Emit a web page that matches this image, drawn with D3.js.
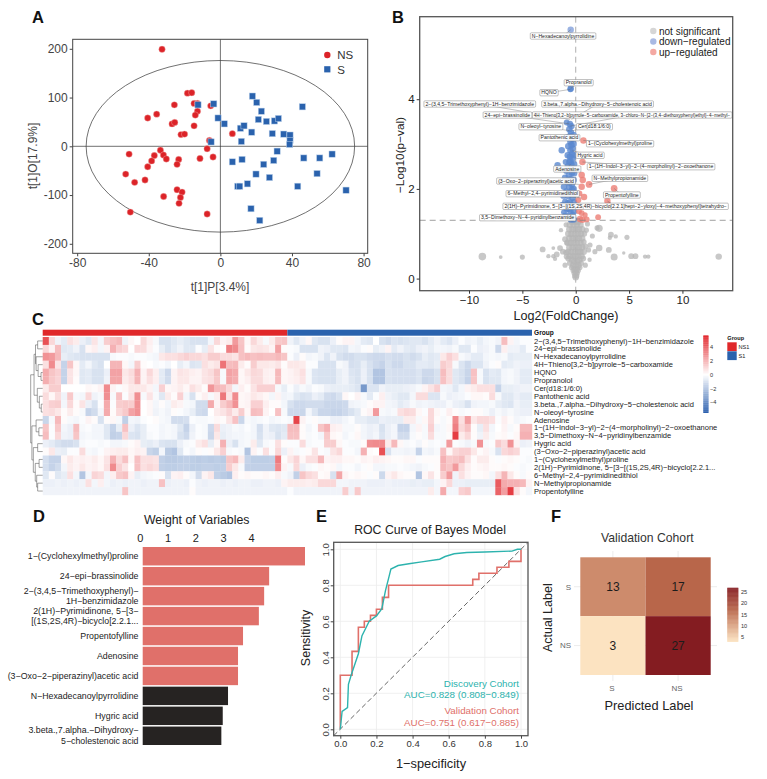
<!DOCTYPE html>
<html>

<head>
  <meta charset="utf-8">
  <script src="https://d3js.org/d3.v7.min.js"></script>
  <style>
    body {
      margin: 0;
      background: #fff;
    }

    svg text {
      font-family: "Liberation Sans", Arial, sans-serif;
    }

    .panelTag {
      font-weight: bold;
      font-size: 16.5px;
      fill: #111;
    }
  </style>
</head>

<body>
  <svg id="fig" width="767" height="779"></svg>
  <script>
    // ---------- panel A, OPLS-DA scores [t1P, t1O]
    const nsScores = [[-32.6, 199], [-18.4, 109], [-16, 110], [-14.7, 88], [-12.8, 88], [-5.4, 83], [-25.7, 85], [-12.8, 72], [-14, 64], [-40.6, 58],
    [-35.6, 66], [-27, 46], [-25.5, 49], [-14.7, 42], [-22, 24], [-20, 25], [6.7, 26], [-6.1, 12], [-7.4, -5], [-4.1, -22],
    [-11.4, -25], [-33.5, -8], [-31.8, -18], [-36.9, -19], [-38.4, -30], [-30.2, -26], [-51, -16], [-40.6, -42], [-23.3, -27], [-24.2, -37],
    [-52.9, -57], [-47.9, -74], [-42.1, -69], [-24.2, -89], [-21.4, -94], [-22.3, -105], [-31.7, -103], [-23.1, -117], [-50.3, -135], [-7.4, -139]];
    const sScores = [[-12.5, 85], [-3.7, 87], [-1.3, 58], [2.2, 46], [17.9, 103], [20.3, 90], [22.9, 72], [21.2, 55], [25.7, 51], [30.2, 52],
    [32.4, 57], [45.8, 81], [11.2, 37], [13.2, 42], [17.5, 29], [11.7, 10], [29, 26], [35.4, 25], [38.9, 23], [38.9, 12],
    [38.7, 4], [-5.2, 9], [31.7, -10], [6.7, -32], [12.1, -27], [24.2, -37], [29.8, -29], [46.6, -24], [55.5, -24], [62.4, -16],
    [19.9, -57], [27.4, -64], [54, -56], [15.1, -77], [9.7, -82], [10.8, -82], [43.2, -82], [70.2, -90], [17.1, -128], [22, -152]];
    const aTicksX = [-80, -40, 0, 40, 80];
    const aTicksY = [-200, -100, 0, 100, 200];
    const ellipseRadius = [75, 176];

    // ---------- panel B, volcano [log2FC, -log10p, feature weight]
    const notSigPoints = [[-8.75, .49, 4], [-7.03, .48, 1.2], [-5, .48, 2], [-3.1, .65, 2.5], [-2.56, .5, 1.5], [-2.1, .5, 1.5], [-1.78, .54, 2.5], [-2.1, .68, 1.2], [-1.47, .68, 2.5], [-1.94, .44, 1.5],
    [13.4, .49, 3], [6.8, .49, 1.5], [6.5, .49, 1.5], [5.6, .5, 2.5], [5.2, .5, 2.5], [4.5, .57, 1], [3.6, .48, 3.5], [3.1, .64, 2.5], [2.2, .68, 3], [1.8, .6, 2],
    [4.8, .92, 2], [3.75, .94, 1.5], [3.3, .98, 2.5], [3.2, .91, 1.5], [2.2, 1.12, 3.5], [2, 1.13, 2], [1.56, .95, 2], [1, 1.08, 2], [1.34, .75, 2], [1.2, .64, 2],
    [-1.38, 1.08, 1.5], [-1, .88, 2.5], [-.85, .8, 2], [-1, .3, 2], [-.85, .49, 2.5], [1.1, 1.22, 2], [-.9, 1.2, 2], [1.3, .42, 1.5], [-1.2, .6, 2.5], [.9, .3, 2],
    [0, .03, 3], [-.1, .06, 2], [.1, .06, 2], [-.15, .12, 2], [.15, .12, 2], [0, .15, 3], [-.25, .18, 2], [.25, .18, 2], [-.1, .22, 3], [.1, .22, 3],
    [-.4, .25, 2], [.4, .25, 2], [-.25, .3, 3], [0, .3, 3], [.25, .3, 3], [-.55, .35, 2.5], [.5, .35, 2.5], [-.15, .38, 3], [.15, .38, 3], [-.35, .42, 3],
    [.35, .42, 3], [-.7, .45, 2.5], [.7, .45, 2.5], [-.55, .5, 3], [-.25, .5, 3], [0, .5, 3], [.25, .5, 3], [.55, .5, 3], [-.9, .58, 2.5], [-.7, .6, 3],
    [-.4, .6, 3], [-.1, .6, 3], [.2, .6, 3], [.45, .6, 3], [.75, .6, 3], [-.6, .7, 3], [-.3, .7, 3], [0, .7, 3], [.3, .7, 3], [.6, .7, 3],
    [.9, .72, 2.5], [-.75, .8, 3], [-.45, .8, 3], [-.15, .8, 3], [.15, .8, 3], [.45, .8, 3], [.75, .82, 2.5], [-.6, .9, 3], [-.3, .9, 3], [0, .9, 3],
    [.3, .9, 3], [.6, .9, 3], [-.7, 1, 3], [-.4, 1, 3], [-.1, 1, 3], [.2, 1, 3], [.5, 1, 3], [.8, 1, 2.5], [-.6, 1.1, 3], [-.3, 1.1, 3],
    [0, 1.1, 3], [.3, 1.1, 3], [.6, 1.1, 3], [-.55, 1.2, 3], [-.2, 1.2, 3], [.1, 1.2, 3], [.45, 1.2, 3], [-.35, 1.27, 3], [0, 1.27, 3], [.25, 1.27, 3]];
    const downPoints = [[-.47, 5.55, 3], [-.47, 4.24, 3], [-.5, 4.22, 2.5], [-1.31, 2.86, 3], [-1.7, 2.53, 3], [-.85, 3.48, 2.5], [-.55, 3.45, 3], [-.4, 3.4, 3], [-.6, 3.33, 3], [-.45, 3.26, 3],
    [-.5, 3.18, 3], [-.35, 3.12, 3], [-.5, 3.05, 3], [-.4, 2.98, 3], [-.3, 2.9, 3], [-.5, 2.86, 3], [-.35, 2.78, 3], [-.55, 2.72, 3], [-.3, 2.68, 3], [-.6, 2.6, 3],
    [-.4, 2.55, 3], [-.75, 2.5, 3], [-.5, 2.44, 3], [-.9, 2.4, 2.5], [-.35, 2.36, 3], [-.65, 2.3, 3], [-.45, 2.22, 3], [-.8, 2.15, 3], [-.35, 2.1, 3], [-.6, 2.04, 3],
    [-.9, 1.95, 2.5], [-.45, 1.92, 3], [-.7, 1.84, 3], [-.3, 1.8, 3], [-1, 1.72, 2.5], [-.55, 1.7, 3], [-.25, 1.62, 3], [-.85, 1.56, 3], [-.5, 1.5, 3], [-1.1, 1.48, 2.5],
    [-.3, 1.42, 3], [-.7, 1.38, 3], [-.45, 1.32, 3], [-.2, 3.2, 3], [-.75, 3.15, 3], [-.2, 3, 3], [-.7, 2.95, 3], [-.15, 2.75, 3], [-.75, 2.75, 3], [-.15, 2.55, 3],
    [-.95, 2.6, 2.5], [-.15, 2.35, 3], [-1, 2.25, 3], [-.2, 2.2, 3], [-1.1, 2.05, 3], [-.2, 2, 3], [-1.15, 1.85, 3], [-.15, 1.9, 3], [-.5, 2.62, 3], [-.6, 2.15, 3],
    [-.35, 1.98, 3], [-.75, 1.68, 3], [-.15, 1.7, 3], [-.4, 1.6, 3], [-1.25, 1.65, 2.5], [-.15, 1.5, 3], [-.95, 1.4, 3], [-.2, 1.32, 3], [-.65, 1.55, 3], [-.55, 1.9, 3]];
    const upPoints = [[.72, 3.08, 3], [.63, 2.6, 3], [.56, 2.31, 3], [.66, 2.2, 3], [1.25, 2.1, 3.2], [.56, 2.05, 3], [3.6, 2.01, 3.2], [.78, 1.82, 3], [.25, 1.75, 2.5], [2.97, 1.73, 3],
    [3.1, 1.64, 2.5], [.56, 1.6, 2.5], [.56, 1.46, 2.5], [.4, 1.33, 3], [.63, 1.31, 3], [1.03, 1.32, 2.5], [2.1, 1.37, 2.5], [.88, 1.42, 2], [.35, 1.9, 2.5], [.3, 1.5, 2.5]];
    const volcanoLabels = ["N−Hexadecanoylpyrrolidine", "Propranolol", "HQNO", "2−(3,4,5−Trimethoxyphenyl)−1H−benzimidazole", "3.beta.,7.alpha.−Dihydroxy−5−cholestenoic acid",
      "4H−Thieno[3,2−b]pyrrole−5−carboxamide, 3−chloro−N−[2−(3,4−diethoxyphenyl)ethyl]−4−methyl−", "24−epi−brassinolide", "N−oleoyl−tyrosine", "Cer(d18:1/6:0)", "Pantothenic acid",
      "1−(Cyclohexylmethyl)proline", "Hygric acid", "Adenosine", "1−(1H−Indol−3−yl)−2−(4−morpholinyl)−2−oxoethanone", "N−Methylpropionamide",
      "(3−Oxo−2−piperazinyl)acetic acid", "Propentofylline", "6−Methyl−2,4−pyrimidinedithiol", "2(1H)−Pyrimidinone, 5−[3−[(1S,2S,4R)−bicyclo[2.2.1]hept−2−yloxy]−4−methoxyphenyl]tetrahydro−", "3,5−Dimethoxy−N−4−pyridinylbenzamide"];
    const volcanoLabelTargets = [[-.47, 5.55], [-.47, 4.24], [-.5, 4.22], [-.55, 3.55], [-.4, 3.55],
    [-.5, 3.4], [-.6, 3.45], [-.6, 3.3], [-.3, 3.3], [-.5, 3.1],
    [.72, 3.08], [-.3, 2.85], [-.5, 2.55], [.63, 2.6], [1.25, 2.1],
    [.3, 2.1], [3.6, 2.01], [.5, 1.8], [2.97, 1.73], [.4, 1.33]];
    const bTicksX = [-10, -5, 0, 5, 10];
    const bTicksY = [0, 2, 4];

    // ---------- panel C, z-scored heatmap: 20 metabolites x 80 samples (40 NS, then 40 S)
    const heatLabels = ["2−(3,4,5−Trimethoxyphenyl)−1H−benzimidazole", "24−epi−brassinolide", "N−Hexadecanoylpyrrolidine", "4H−Thieno[3,2−b]pyrrole−5−carboxamide", "HQNO",
      "Propranolol", "Cer(d18:1/6:0)", "Pantothenic acid", "3.beta.,7.alpha.−Dihydroxy−5−cholestenoic acid", "N−oleoyl−tyrosine",
      "Adenosine", "1−(1H−Indol−3−yl)−2−(4−morpholinyl)−2−oxoethanone", "3,5−Dimethoxy−N−4−pyridinylbenzamide", "Hygric acid", "(3−Oxo−2−piperazinyl)acetic acid",
      "1−(Cyclohexylmethyl)proline", "2(1H)−Pyrimidinone, 5−[3−[(1S,2S,4R)−bicyclo[2.2.1...", "6−Methyl−2,4−pyrimidinedithiol", "N−Methylpropionamide", "Propentofylline"];
    const heatGroups = ["NS1", "S1"];
    const heatValues = [
      [4.5, 1, -.4, -.7, .8, .5, -.5, -.8, .7, -.3, 1.3, 1.6, 1.8, -.4, .2, 0, 1, .4, -.2, -1, -1, -.8, -.6, -.8, -1, -1, -1, -.3, 1, .3, .5, 2.6, 1.5, .2, 1, .5, -.2, .5, 1.4, 1.5,
      -.4, -.8, -.4, .2, -.8, -1, -1, -.5, .1, .3, .3, -.3, -.7, -.8, 0, -1, -1.2, -.9, -1, -.9, -.8, -.8, -1, -.7, -.4, -.7, -.9, -.5, -.1, -.4, -.3, -.6, -.3, -.2, -.4, 1.7, .3, -.3, -.1, -.1],
      [1, .3, 1.7, -.8, -.7, -.4, -1, .2, .4, -.3, .3, 2, 1.2, 1, 0, 1, .9, .3, -.1, -.6, -1, -.7, -.4, -.8, -.8, -.1, -.6, .7, .1, 0, 3.3, 3, 1.6, .1, .6, .7, .6, .3, 2.4, .1,
      -.1, -.2, -1, -1, -1, -.4, -.5, -.8, -.8, -.9, -.3, -.4, -.1, .1, -.6, -.4, .3, -.7, -.4, -.7, -.8, -.5, -.4, -.6, -.3, -.3, -.4, -.2, -.8, -.8, -.1, -.5, -.4, -.2, -1.3, .4, -.4, -.4, -.7, -.1],
      [2.8, 2.6, 1.8, -.6, -.8, -.9, -1, -1, -1, -1, -1, -.2, -.1, -.1, -.2, -.1, -.1, -.2, -.3, .6, .8, .8, 1, 1.2, 1, 1, .8, 1.3, 1.3, .9, .9, .7, 1.6, 1.8, 1.6, 1.7, 1.6, 1.6, 1.8, 1.5,
      -.1, -.5, .1, -.3, -.2, -.4, -.9, -.4, -1, -1.2, -1.2, -1, -1, -1.2, -1.3, -1.3, -1.1, -1.2, -1.2, -1, -1.2, -1, -.6, -.8, -.7, .6, 1.2, .8, -.2, -.4, -.7, -.7, -.3, -.2, -.3, -.2, -.7, -.6, -.6, -.6],
      [.8, 3, .7, -1.5, 1.5, .2, -.7, -.3, -.8, -1, 0, 1.9, 1.9, .2, -.3, 1.3, .1, 0, -.2, -.1, -.3, 0, -.6, -.3, -.9, -.8, .8, .5, .7, 3.6, 1.7, 1.8, .5, .1, 1.3, .6, .6, .5, .7, .1,
      .6, .6, .5, -.1, -.1, -1, -1, -1, -.2, -.4, -1.1, -1, -.6, -1, -1.3, -1.5, -1, -1.3, -1.3, -1, -1, -.7, -.7, -.8, -.6, 1.3, 1, -.2, -.9, -1.3, -.9, -.9, -.4, -.1, .1, -.7, -.6, -.4, -.5, -.5],
      [2.2, 1.5, 1.2, -1.5, .7, .2, -.8, -.7, -1, -1, -.5, 2.4, 2.4, .6, .9, 2, .3, 1, .4, -.7, -1.3, .3, .7, .6, .4, .3, .7, .9, 1.5, -.2, 2.4, 2.2, .2, .6, 1, .9, .4, .3, 1.8, .2,
      .3, .5, .8, -.2, -.9, -1, -1, -1, -.6, -.4, -.9, -1, -.5, -1, -2, -2, -1, -1.1, -1.1, -1.1, -1.1, -.9, -1.3, -1.3, -1, 1.7, .9, -.8, -1, -1.4, 1.6, -.2, -1, -.7, -.8, -.3, -.2, -.4, -.7, -.7],
      [2.1, 1.4, 1.1, -1.5, .7, .1, -.8, -.7, -1, -1, -.4, 2.3, 2.3, .5, .8, 1.9, .3, .8, .4, -.7, -1.2, .3, .6, .6, .3, .3, .7, .8, 1.4, -.2, 2.3, 2.1, .2, .4, .9, .9, .4, .3, 1.7, .2,
      .3, .4, .7, -.2, -.9, -1, -1, -1, -.6, -.4, -.8, -1, -.5, -1, -2, -2, -1, -1.1, -1.1, -1.1, -1.1, -.9, -1.4, -1.3, -1, 1.6, .9, -.8, -1, -1.5, 1.5, -.2, -1, -.8, -.8, -.3, -.2, -.4, -.7, -.7],
      [.5, 1.3, 1.3, 0, 0, 0, 0, .2, .1, .3, 3, .3, -.1, .2, .6, .6, .6, .3, -.3, 1.2, .2, .3, .5, .2, .8, .5, .1, 2.7, 1.8, 1.7, 1, -.3, .4, .1, .7, 1.2, 1.2, 1.2, -.2, -.6,
      -.1, -.5, -.2, -.4, -.1, -.2, -.5, -.6, -.6, -.6, -.7, -.9, -3.5, -.9, -.9, -.4, -.6, -.6, -.6, -.5, -.4, -.2, .3, .7, 1.2, -.3, -.4, -.8, -.3, .3, .5, .8, .8, .8, -1.5, -.6, -.6, -.5, -.4, -.4],
      [.9, .2, .9, -.4, 1.4, -.2, -.3, 1, -.4, -.2, 2.9, -.2, 1.6, -.1, .7, 2.9, -.2, .7, -.2, -.8, .5, .1, 1.2, -.3, -1, .1, .4, -.2, .4, 3.5, .7, 3, .2, .3, .6, .4, .2, -.3, .3, -.4,
      -.3, -.8, -1, -.9, -.5, -.7, -1.2, -1.3, -1, .2, 0, .3, -.2, -.7, -.1, .4, -.4, -.6, -.8, -.8, -.3, .9, .9, -.9, -.9, -.2, -.5, -.4, -.3, -.1, .2, .2, .1, .9, -.2, -.8, -.8, -.5, -.7, -.7],
      [.8, 1.2, 1.3, -.3, 1, .1, .7, -.5, -1, -.1, 2.2, -.1, 1.3, 1.4, 1.3, 2.8, 0, .2, -.3, .1, -.3, .5, .3, -.2, -.3, -1.2, -1.2, 2.2, .3, 1.3, 1.8, 2.8, .2, .3, 1.2, 1.2, .4, .1, .1, -.3,
      -1, -1.3, -1.3, -1.2, -1.2, -1.2, -1.4, -1.4, -1.4, -1.3, -.4, -.3, -.2, .1, .3, .3, -.3, -.4, -.7, -.5, -.2, -.4, -.3, -.4, -.5, -.5, -.2, -.5, -.6, -1, -.4, -.3, -.3, -.2, -.6, -.8, -.9, -.4, -.6, -.6],
      [.8, .9, .6, .1, .5, .1, -.2, -1.5, -1.2, -.3, 2.2, .1, 1, 1.4, 2.4, 2.8, 0, .2, -.4, -.2, -.4, .1, -.1, -.3, -.6, -1.2, -1.3, 0, .5, .7, 1.1, .5, 1.3, .2, 1.7, 1.6, .3, 0, 1.6, -.2,
      -1.3, -1.3, -1.4, -.3, -.9, -1.4, -1.4, -1.5, -1.5, -1.3, -1, -.7, .1, .3, 2.6, -.2, -.3, -.2, .8, 1, .9, .2, -.1, 1, .2, -.1, .4, .1, -.2, -.1, .1, .1, -.2, -.5, -.2, -.4, -.2, -.4, -.5, -.5],
      [-1.4, -.2, 1.8, .1, -.2, -.3, -.1, .3, .1, -1, .1, .2, -.2, -1.6, -.3, -.4, -.1, 0, .1, -.2, -.3, -1.2, -1.2, -1.1, -.1, -.2, -.2, -.1, .2, .1, .7, 1.6, -1.4, -.2, -.3, -.2, -.1, -.3, -.2, -.1,
      -.2, 4.8, .3, -.1, .1, -.2, -.2, -.5, -.5, -.3, -.1, -.6, -.6, -.8, -.8, -.5, -.6, -.6, -.6, .5, .5, -.2, .2, 1, .1, -.2, .1, 3, .8, 2.5, .6, 1, 1, .8, -.1, .4, .1, -.3, -.2, -.1],
      [1.5, -.1, 1.4, -.3, -.5, 1.7, -.2, -.1, -.3, -.3, -.8, -1.5, -.6, 1.6, -.5, -.9, -.6, -.1, -.1, -.3, -.2, -.3, -.8, -1.5, -.5, -.1, -.2, -1.3, .9, -.5, -.4, -.2, -.3, -.1, -.3, -1.1, -.4, -.8, -.9, -.8,
      1.7, 1.7, .1, -.3, -.1, 1.5, 2, .4, .3, -.2, -.2, .1, -.3, -.5, -.4, -1, -.5, -.3, -1.5, -1.5, -.3, .3, -.2, 1.2, -.3, -.2, .2, 3.3, 1, 1.6, .1, -.6, .8, -.3, 0, .3, -.2, .1, 1.8, 1.8],
      [1.7, -.1, 1, -.4, -.5, 1.5, -.3, -.2, -.3, -.3, -.8, -1.6, -1.5, 1, -.9, -1, -.6, -.2, -.1, -.3, -.2, -.3, -1, -1.3, -.4, -.1, -.2, -1.4, .6, -.6, -.4, -.3, -.3, -.2, -.3, -1, -.4, -.5, -1, -.7,
      1.6, 1.6, .1, -.2, -.1, -.3, 1.4, .2, .1, -.3, -.1, .2, -.3, -.5, -.3, -.9, -.5, -.3, -1.2, -1.2, -.2, .1, -.2, .9, -.2, -.2, .1, 5, .5, 1, .1, -.4, .5, -.2, .1, .2, -.1, .2, 2, 2],
      [-.5, -.7, -1, -1.2, -1.2, -1, -.2, -.1, -.1, -.2, -.1, -.3, -.3, -.2, .1, .3, -.6, -.7, -.5, -.9, -1, -1, -.5, -.2, -.1, .5, .8, -.6, .2, 2, -.5, -1, -.3, -.2, .5, -.8, -.2, -.1, .8, .1,
      -.1, -.1, .9, -.2, -.1, -.1, 1.3, 1.3, .2, -.1, -.2, -.2, .1, 2.9, 3, 3, .5, 1.8, .2, -.2, -.1, -.3, .1, -.2, -.1, -.2, 2.6, -.1, -.2, -.4, -.2, 2.8, -.2, -.1, 1.4, .9, 2.8, .3, -.5, -.4],
      [.1, .6, -.5, -.6, -.1, -.1, .9, -.2, -.3, -.1, .3, .4, .5, .5, .2, .4, .3, -1.4, -1.6, -.3, -1.8, -2, -.8, -.1, -.3, .1, -.1, .1, .6, 1.2, -.2, -.1, -.2, -2, .3, -.1, .8, -.1, 1, -.5,
      .3, -.2, -.1, .1, .7, -.1, -.2, .7, 1, -.1, -.1, -.3, 2, .1, 0, 4.5, -1, -.3, -.3, -.4, -.3, -1.5, -.3, -.4, -.2, 1.6, .2, 1, 1.2, 1.2, .6, .1, .3, -.2, -1, 1, 1.2, 1, -.1, -.1],
      [-1.1, -1.5, -1.5, .2, .6, .3, .4, .3, .5, .2, .7, 2, .9, 1.6, .2, 1.6, .8, .8, .7, -1.6, -1.8, -1.8, -1.7, -1.6, -1.7, -1.8, -1.7, -1.8, -1.7, -1.8, 1.5, 1.8, .5, -1.5, -1.7, -1.7, -1.7, -1.6, 3.4, .1,
      .6, 1.1, .2, .8, .8, 1.8, .3, .4, .4, .2, .2, .1, .3, .2, .4, .3, .2, .1, .1, .2, .2, -.1, .1, .1, .1, 2, 1.4, 1.5, 1.7, .8, .1, .5, .5, .1, -.1, .1, .2, .1, -.1, -.2],
      [-1.1, -1.5, -1.2, -.3, .5, .3, .6, .3, .4, .2, .8, 3, 1.2, .7, 0, 1.6, .8, 1, .8, -1.6, -1.7, -1.7, -1.6, -1.6, -1.7, -1.7, -1.6, -1.6, -1.7, -1.6, 1.3, .6, -.2, -1.6, -1.6, -1.6, -1.6, -1.6, 3, .3,
      -.2, 1, -.5, -.2, -.1, .2, .1, .2, -.3, -.1, -.1, -.3, -.1, .1, -.3, -.3, -.2, -.2, -.1, -.2, -.3, -.4, -.2, -.1, .1, 1.8, 1.5, 2.6, 1, .4, .1, .2, .3, .1, .1, .2, .1, -.1, -.2, -.1],
      [-.8, .1, -.8, -.6, .8, -.3, -2, -.3, 1.1, .9, -.3, .4, 1.4, 1.6, .3, -.6, -.3, -.2, -.1, .1, -1, .3, .4, .1, -.3, -1.2, .3, .6, -1.6, -1.8, -2, .4, .1, .2, .1, .1, .2, .1, .4, -.2,
      -.4, -1.6, 1.5, 1, .8, .1, .2, -1, 2.3, .3, .1, .2, .1, -.1, .1, -1.3, .3, .6, .2, .1, .1, -2, .2, .7, .1, 1.3, 2.6, -.4, .8, .3, .1, .1, .2, -.3, .8, 1.9, .6, .1, -.2, .1],
      [-.5, -.5, -.4, -.5, -.4, -.5, -.4, .8, -.3, .4, -.3, -.5, -.4, -.5, -.4, -.4, -.5, -.4, -.4, 1.6, -.5, -.4, -.4, -.5, -.1, -.4, -.5, -.4, -.4, -.5, -.4, -.5, -.4, -.4, -.5, -.5, -.4, -.4, -.5, .3,
      .5, .5, .5, .4, .5, 1, 1, 1, -.3, -.3, -.4, -.4, -.4, -.5, -.5, -.5, -.4, -.5, -.5, -.5, -.6, -.5, -.6, -.6, -.3, .3, 1, -.5, -.5, -.6, -.6, -.6, -.6, -.6, 4.2, 2.2, 2, 2, 1.8, .3],
      [-.4, -.4, -.4, -.4, -.4, -.4, -.4, -.4, -.4, -.4, -.4, -.4, -.4, 1.5, -.4, -.4, -.4, -.4, -.4, -.4, -.4, -.4, -.4, -.4, .1, -.4, -.4, -.4, -.4, -.4, -.4, -.4, -.4, -.4, -.4, -.4, -.4, -.4, -.4, -.4,
      -.1, -.4, -.4, -.4, -.4, -.4, -.4, -.4, -.4, 1.3, -.4, 1.4, -.4, -.4, -.4, -.4, -.4, -.4, -.4, -.4, -.4, -.4, -.4, .5, -.3, 2.2, -.3, -.3, 1.2, 1.4, -.3, -.3, -.3, -.3, 4, 2.5, 5, .8, .1, -.3]
    ];
    const heatLegendTicks = [-4, -2, 0, 2, 4];
    // dendrogram as [merge height, left, right], leaves are row numbers
    const dendroTree = [1,
      [.72, [.6, [.42, 0, 1], [.55, 2, [.38, 3, [.14, 4, 5]]]], [.45, 6, [.28, 7, [.12, 8, 9]]]],
      [.9, [.55, 10, [.32, 11, 12]], [.78, [.42, 13, 14], [.62, [.3, 15, 16], [.5, 17, [.42, 18, 19]]]]]];

    // ---------- panel D
    const weightNames = ["1−(Cyclohexylmethyl)proline", "24−epi−brassinolide", "2−(3,4,5−Trimethoxyphenyl)−\n1H−benzimidazole", "2(1H)−Pyrimidinone, 5−[3−\n[(1S,2S,4R)−bicyclo[2.2.1...", "Propentofylline",
      "Adenosine", "(3−Oxo−2−piperazinyl)acetic acid", "N−Hexadecanoylpyrrolidine", "Hygric acid", "3.beta.,7.alpha.−Dihydroxy−\n5−cholestenoic acid"];
    const weightValues = [5.84, 4.55, 4.37, 4.18, 3.61, 3.43, 3.43, 3.07, 2.88, 2.83];
    const weightUp = [true, true, true, true, true, true, true, false, false, false];
    const weightTicks = [0, 1, 2, 3, 4];

    // ---------- panel E, ROC [1-specificity, sensitivity]
    const discoveryRoc = [[0, 0], [.01, .1], [.04, .12], [.045, .25], [.06, .3], [.08, .36], [.1, .42], [.12, .52], [.14, .56], [.16, .6], [.2, .63], [.23, .67], [.25, .77], [.27, .85], [.28, .89], [.32, .91], [.38, .92], [.45, .93], [.55, .945], [.58, .96], [.63, .975], [.7, .982], [.8, .985], [.95, .99], [.98, 1], [1, 1]];
    const validationRoc = [[0, 0], [0, .3], [.065, .3], [.065, .433], [.1, .433], [.1, .567], [.133, .567], [.133, .6], [.167, .6], [.167, .633], [.2, .633], [.2, .667], [.233, .667], [.233, .733], [.267, .733], [.267, .8], [.733, .8], [.733, .833], [.767, .833], [.767, .867], [.867, .867], [.867, .9], [.933, .9], [.933, .933], [1, .933], [1, 1]];
    const rocTicks = [0, .2, .4, .6, .8, 1];

    // ---------- panel F
    const confusionLabels = ["S", "NS"];
    const confusionCells = [["S", "S", 13], ["NS", "S", 17], ["S", "NS", 3], ["NS", "NS", 27]];
    const confusionLegendTicks = [5, 10, 15, 20, 25];

    const svg = d3.select("#fig");

    const addText = (sel, str, x, y, size, opts = {}) => sel.append("text")
      .text(str)
      .attr("x", x).attr("y", y)
      .attr("font-size", size)
      .attr("text-anchor", opts.anchor || "middle")
      .attr("fill", opts.fill || "#222")
      .attr("font-weight", opts.weight || null);

    const addRotated = (sel, str, x, y, size, fill) => sel.append("text")
      .text(str)
      .attr("transform", `translate(${x},${y}) rotate(-90)`)
      .attr("font-size", size)
      .attr("text-anchor", "middle")
      .attr("fill", fill || "#222");

    const styleAxis = (g, size, color, stroke) => {
      g.select(".domain").remove();
      g.selectAll("line").attr("stroke", stroke || "#444");
      g.selectAll("text").attr("font-size", size).attr("fill", color || "#444");
    };

    [["A", 32, 23], ["B", 392, 23], ["C", 32, 325], ["D", 33, 522], ["E", 316, 522], ["F", 551, 522]].forEach(t => {
      svg.append("text").attr("class", "panelTag").attr("x", t[1]).attr("y", t[2]).text(t[0]);
    });

    // ------------------ A
    const ax = d3.scaleLinear([-82.5, 82.3], [72.7, 367.7]);
    const ay = d3.scaleLinear([-219.5, 219.5], [253.3, 39.3]);
    const aG = svg.append("g");
    aG.append("ellipse")
      .attr("cx", ax(0)).attr("cy", ay(0))
      .attr("rx", ax(ellipseRadius[0]) - ax(0)).attr("ry", ay(0) - ay(ellipseRadius[1]))
      .attr("fill", "none").attr("stroke", "#333").attr("stroke-width", .7);
    aG.append("line").attr("x1", ax.range()[0]).attr("x2", ax.range()[1]).attr("y1", ay(0)).attr("y2", ay(0)).attr("stroke", "#333").attr("stroke-width", .7);
    aG.append("line").attr("y1", ay.range()[0]).attr("y2", ay.range()[1]).attr("x1", ax(0)).attr("x2", ax(0)).attr("stroke", "#333").attr("stroke-width", .7);
    aG.selectAll("circle.ns").data(nsScores).join("circle")
      .attr("class", "ns")
      .attr("cx", d => ax(d[0])).attr("cy", d => ay(d[1])).attr("r", 3.2)
      .attr("fill", "#dc2328").attr("stroke", "#f3b6b2").attr("stroke-width", .4);
    aG.selectAll("rect.s").data(sScores).join("rect")
      .attr("class", "s")
      .attr("x", d => ax(d[0]) - 3.1).attr("y", d => ay(d[1]) - 3.1).attr("width", 6.2).attr("height", 6.2)
      .attr("fill", "#2a62ad").attr("stroke", "#b9d0ea").attr("stroke-width", .5);
    aG.append("rect").attr("x", 72.7).attr("y", 39.3).attr("width", 295).attr("height", 214)
      .attr("fill", "none").attr("stroke", "#444").attr("stroke-width", 1);
    aG.append("g").attr("transform", "translate(0,253.3)")
      .call(d3.axisBottom(ax).tickValues(aTicksX).tickFormat(d => String(d)).tickSize(3).tickPadding(2))
      .call(styleAxis, 12);
    aG.append("g").attr("transform", "translate(72.7,0)")
      .call(d3.axisLeft(ay).tickValues(aTicksY).tickFormat(d => String(d)).tickSize(3).tickPadding(2))
      .call(styleAxis, 12);
    addText(aG, "t[1]P[3.4%]", 220, 291, 12, { fill: "#444" });
    addRotated(aG, "t[1]O[17.9%]", 37, 156, 12, "#444");
    aG.append("circle").attr("cx", 327.3).attr("cy", 55).attr("r", 3.2).attr("fill", "#dc2328");
    aG.append("rect").attr("x", 324.2).attr("y", 66.2).attr("width", 6.2).attr("height", 6.2).attr("fill", "#2a62ad");
    addText(aG, "NS", 337.3, 59, 11.5, { anchor: "start", fill: "#333" });
    addText(aG, "S", 337.3, 74, 11.5, { anchor: "start", fill: "#333" });

    // ------------------ B
    const bx = d3.scaleLinear([-14.62, 14.71], [419.7, 732.7]);
    const by = d3.scaleLinear([-.27, 5.84], [290.7, 16.7]);
    const br = d3.scaleSqrt([1, 4], [1.7, 3.8]);
    const bG = svg.append("g");
    const drawVolcano = (pts, fill, opacity) => {
      bG.append("g").selectAll("circle").data(pts).join("circle")
        .attr("cx", d => bx(d[0])).attr("cy", d => by(d[1])).attr("r", d => br(d[2]))
        .attr("fill", fill).attr("fill-opacity", opacity);
    };
    bG.append("line").attr("x1", bx(0)).attr("x2", bx(0)).attr("y1", 16.7).attr("y2", 290.7)
      .attr("stroke", "#999").attr("stroke-dasharray", "6 4").attr("stroke-width", .8);
    drawVolcano(notSigPoints, "#b5b5b5", .75);
    drawVolcano(downPoints.slice(0, 1), "#8aa6dd", .85);
    drawVolcano(downPoints.slice(1), "#5a88cf", .8);
    drawVolcano(upPoints, "#ec7e76", .8);
    bG.append("line").attr("x1", 419.7).attr("x2", 732.7).attr("y1", by(1.3)).attr("y2", by(1.3))
      .attr("stroke", "#888").attr("stroke-dasharray", "6 4").attr("stroke-width", .8);

    // label boxes were placed by ggrepel in the original, so they are positioned by hand here
    const labelCenterX = [563, 578.7, 549, 479.7, 597.5, 632, 507.4, 540.8, 594.3, 559.4, 620, 590, 567.2, 651, 619.8, 536, 621.8, 542.7, 615.6, 527.6];
    const labelCenterY = [36, 82.7, 92.7, 104, 104, 115, 115, 126.7, 126.7, 137.7, 143.7, 155.3, 169, 166.7, 178.3, 181, 195, 193.7, 206.3, 217.7];
    const labelFontSize = 5.1;
    const longLabelFontSize = 4.55; // the 4H-Thieno label has to fit beside the 24-epi box
    const labelG = bG.append("g");
    volcanoLabels.forEach((name, i) => {
      labelG.append("line")
        .attr("x1", labelCenterX[i]).attr("y1", labelCenterY[i])
        .attr("x2", bx(volcanoLabelTargets[i][0])).attr("y2", by(volcanoLabelTargets[i][1]))
        .attr("stroke", "#666").attr("stroke-width", .4);
    });
    volcanoLabels.forEach((name, i) => {
      const box = labelG.append("rect");
      const t = addText(labelG, name, labelCenterX[i], labelCenterY[i] + 1.7, i === 5 ? longLabelFontSize : labelFontSize, { fill: "#222" });
      const bb = t.node().getBBox();
      box.attr("x", bb.x - 1.5).attr("y", labelCenterY[i] - 3.2).attr("width", bb.width + 3).attr("height", 6.4).attr("rx", 1)
        .attr("fill", "#fff").attr("fill-opacity", .92).attr("stroke", "#666").attr("stroke-width", .4);
    });
    bG.append("rect").attr("x", 419.7).attr("y", 16.7).attr("width", 313).attr("height", 274)
      .attr("fill", "none").attr("stroke", "#555").attr("stroke-width", 1.3);
    bG.append("g").attr("transform", "translate(0,290.7)")
      .call(d3.axisBottom(bx).tickValues(bTicksX).tickSize(3).tickPadding(2))
      .call(styleAxis, 11.5, "#222", "#333");
    bG.append("g").attr("transform", "translate(419.7,0)")
      .call(d3.axisLeft(by).tickValues(bTicksY).tickFormat(d3.format("d")).tickSize(3).tickPadding(2))
      .call(styleAxis, 11.5, "#222", "#333");
    addText(bG, "Log2(FoldChange)", 566, 320, 12.6);
    addRotated(bG, "−Log10(p−val)", 404, 155, 11.8);
    ["not significant", "down−regulated", "up−regulated"].forEach((s, i) => {
      bG.append("circle").attr("cx", 653.3).attr("cy", 31 + i * 10.5).attr("r", 3.2)
        .attr("fill", ["#d6d6d6", "#a9b9e3", "#f4a9a3"][i]);
      addText(bG, s, 659, 34.5 + i * 10.5, 10, { anchor: "start" });
    });

    // ------------------ C
    const cellX = d3.scaleBand(d3.range(80), [42.7, 532]);
    const cellY = d3.scaleBand(d3.range(20), [337, 495]);
    const heatColor = d3.scaleLinear([-5.5, 0, 5.65], ["#2b5fae", "#ffffff", "#e2242a"]);
    const cG = svg.append("g");
    cG.append("g").selectAll("g").data(heatValues).join("g")
      .attr("transform", (d, i) => `translate(0,${cellY(i)})`)
      .selectAll("rect").data(d => d).join("rect")
      .attr("x", (d, j) => cellX(j)).attr("width", cellX.bandwidth() + .2).attr("height", cellY.bandwidth() + .2)
      .attr("fill", d => heatColor(d));
    cG.append("rect").attr("x", cellX(0)).attr("y", 329.7).attr("width", cellX(40) - cellX(0)).attr("height", 6).attr("fill", "#e0282a");
    cG.append("rect").attr("x", cellX(40)).attr("y", 329.7).attr("width", 532 - cellX(40)).attr("height", 6).attr("fill", "#2a62ad");
    addText(cG, "Group", 534, 335, 6.6, { anchor: "start", weight: "bold", fill: "#111" });
    heatLabels.forEach((s, i) => {
      addText(cG, s, 534, cellY(i) + cellY.bandwidth() / 2 + 2.6, 7.5, { anchor: "start" });
    });

    const dendroX = h => 42.7 - h * 12;
    const drawDendro = node => {
      if (typeof node === "number") return { y: cellY(node) + cellY.bandwidth() / 2, h: 0 };
      const l = drawDendro(node[1]);
      const r = drawDendro(node[2]);
      const d3path = d3.path();
      d3path.moveTo(dendroX(l.h), l.y);
      d3path.lineTo(dendroX(node[0]), l.y);
      d3path.lineTo(dendroX(node[0]), r.y);
      d3path.lineTo(dendroX(r.h), r.y);
      cG.append("path").attr("d", d3path.toString()).attr("fill", "none").attr("stroke", "#444").attr("stroke-width", .5);
      return { y: (l.y + r.y) / 2, h: node[0] };
    };
    drawDendro(dendroTree);

    const heatLegendY = d3.scaleLinear([-5.5, 5.65], [412.7, 335.7]);
    cG.append("g").selectAll("rect").data(d3.range(-5.5, 5.65, .1)).join("rect")
      .attr("x", 703.3).attr("y", d => heatLegendY(d + .1)).attr("width", 5.2).attr("height", heatLegendY(0) - heatLegendY(.1) + .3)
      .attr("fill", d => heatColor(d));
    heatLegendTicks.forEach(v => {
      addText(cG, v < 0 ? "−" + (-v) : String(v), 710, heatLegendY(v) + 2, 5.6, { anchor: "start", fill: "#333" });
    });
    addText(cG, "Group", 727.3, 340, 5.6, { anchor: "start", weight: "bold", fill: "#111" });
    heatGroups.forEach((g, i) => {
      cG.append("rect").attr("x", 727.3).attr("y", 342.3 + i * 9).attr("width", 9.4).attr("height", 8.8).attr("fill", i ? "#2a62ad" : "#e0282a");
      addText(cG, g, 738.5, 348.8 + i * 9, 5.6, { anchor: "start", fill: "#222" });
    });

    // ------------------ D
    const wx = d3.scaleLinear([0, 5.84], [142.7, 305]);
    const wy = d3.scaleBand(d3.range(10), [547, 745]).paddingInner(.075);
    const dG = svg.append("g");
    dG.selectAll("rect").data(weightValues).join("rect")
      .attr("x", wx(0)).attr("y", (d, i) => wy(i))
      .attr("width", d => wx(d) - wx(0)).attr("height", wy.bandwidth())
      .attr("fill", (d, i) => weightUp[i] ? "#e0706a" : "#262322");
    addText(dG, "Weight of Variables", 196.7, 524, 12.3);
    weightTicks.forEach(v => {
      addText(dG, String(v), wx(v) - 2.4, 541.7, 11);
    });
    weightNames.forEach((s, i) => {
      const lines = s.split("\n");
      const mid = wy(i) + wy.bandwidth() / 2;
      lines.forEach((line, k) => {
        addText(dG, line, 138.5, mid + 2.8 + (k - (lines.length - 1) / 2) * 10.2, 8.8, { anchor: "end" });
      });
    });

    // ------------------ E
    const rx = d3.scaleLinear([0, 1], [340.3, 521]);
    const ry = d3.scaleLinear([0, 1], [729.3, 549.3]);
    const eG = svg.append("g");
    rocTicks.forEach(v => {
      eG.append("line").attr("x1", rx(v)).attr("x2", rx(v)).attr("y1", 542.3).attr("y2", 735.7).attr("stroke", "#ececec").attr("stroke-width", .8);
      eG.append("line").attr("y1", ry(v)).attr("y2", ry(v)).attr("x1", 333.7).attr("x2", 528).attr("stroke", "#ececec").attr("stroke-width", .8);
    });
    eG.append("line").attr("x1", 333.7).attr("y1", 735.7).attr("x2", 528).attr("y2", 542.3)
      .attr("stroke", "#666").attr("stroke-dasharray", "5 3").attr("stroke-width", 1);
    const rocLine = d3.line().x(d => rx(d[0])).y(d => ry(d[1]));
    eG.append("path").attr("d", rocLine(validationRoc)).attr("fill", "none").attr("stroke", "#e0706a").attr("stroke-width", 1.6);
    eG.append("path").attr("d", rocLine(discoveryRoc)).attr("fill", "none").attr("stroke", "#2db3ae").attr("stroke-width", 1.4);
    eG.append("rect").attr("x", 333.7).attr("y", 542.3).attr("width", 194.3).attr("height", 193.4)
      .attr("fill", "none").attr("stroke", "#555").attr("stroke-width", 1.3);
    eG.append("g").attr("transform", "translate(0,735.7)")
      .call(d3.axisBottom(rx).tickValues(rocTicks).tickFormat(d3.format(".1f")).tickSize(3).tickPadding(2))
      .call(styleAxis, 9.5, "#333", "#444");
    const eyAxis = eG.append("g").attr("transform", "translate(333.7,0)")
      .call(d3.axisLeft(ry).tickValues(rocTicks).tickFormat(d3.format(".1f")).tickSize(3).tickPadding(2))
      .call(styleAxis, 9.5, "#333", "#444");
    eyAxis.selectAll("text")
      .attr("text-anchor", "middle").attr("x", 0).attr("y", 0).attr("dy", 0)
      .attr("transform", "translate(-5,0) rotate(-90)");
    addText(eG, "ROC Curve of Bayes Model", 430, 534, 12.3);
    addText(eG, "1−specificity", 431, 768, 12.8);
    addRotated(eG, "Sensitivity", 310, 638, 12.5);
    addText(eG, "Discovery Cohort", 519, 686.7, 9.8, { anchor: "end", fill: "#2db3ae" });
    addText(eG, "AUC=0.828 (0.808−0.849)", 519, 698.3, 9.8, { anchor: "end", fill: "#2db3ae" });
    addText(eG, "Validation Cohort", 519, 714, 9.8, { anchor: "end", fill: "#e0706a" });
    addText(eG, "AUC=0.751 (0.617−0.885)", 519, 726, 9.8, { anchor: "end", fill: "#e0706a" });

    // ------------------ F
    const fx = d3.scaleBand(confusionLabels, [580.3, 710.7]);
    const fy = d3.scaleBand(confusionLabels, [557.3, 675]);
    const fColor = d3.scaleLinear([3, 13, 17, 27], ["#fce3c1", "#cd8b6c", "#b8664a", "#841c21"]);
    const fG = svg.append("g");
    confusionLabels.forEach(s => {
      fG.append("line").attr("x1", fx(s) + fx.bandwidth() / 2).attr("x2", fx(s) + fx.bandwidth() / 2).attr("y1", 551).attr("y2", 681).attr("stroke", "#ececec");
      fG.append("line").attr("y1", fy(s) + fy.bandwidth() / 2).attr("y2", fy(s) + fy.bandwidth() / 2).attr("x1", 574).attr("x2", 717).attr("stroke", "#ececec");
      addText(fG, s, fx(s) + fx.bandwidth() / 2 - 1, 691, 8, { fill: "#666" });
      addText(fG, s, 571, fy(s) + fy.bandwidth() / 2 + 2.8, 8, { anchor: "end", fill: "#666" });
    });
    fG.append("g").selectAll("rect").data(confusionCells).join("rect")
      .attr("x", d => fx(d[0])).attr("y", d => fy(d[1]))
      .attr("width", fx.bandwidth()).attr("height", fy.bandwidth())
      .attr("fill", d => fColor(d[2]));
    confusionCells.forEach(d => {
      addText(fG, String(d[2]), fx(d[0]) + fx.bandwidth() / 2, fy(d[1]) + fy.bandwidth() / 2 + 4.2, 12, { fill: "#1c1c1c" });
    });
    addText(fG, "Validation Cohort", 647.3, 541.7, 12.2, { fill: "#333" });
    addText(fG, "Predicted Label", 649, 710, 12.8);
    addRotated(fG, "Actual Label", 552, 617.7, 12.5);
    const fLegY = d3.scaleLinear([3, 27], [641.7, 587.7]);
    fG.append("g").selectAll("rect").data(d3.range(3, 27, .25)).join("rect")
      .attr("x", 727.3).attr("y", d => fLegY(d + .25)).attr("width", 11).attr("height", fLegY(0) - fLegY(.25) + .3)
      .attr("fill", d => fColor(d));
    confusionLegendTicks.forEach(v => {
      addText(fG, String(v), 741, fLegY(v) + 2, 5.6, { anchor: "start", fill: "#333" });
    });
  </script>
</body>

</html>
